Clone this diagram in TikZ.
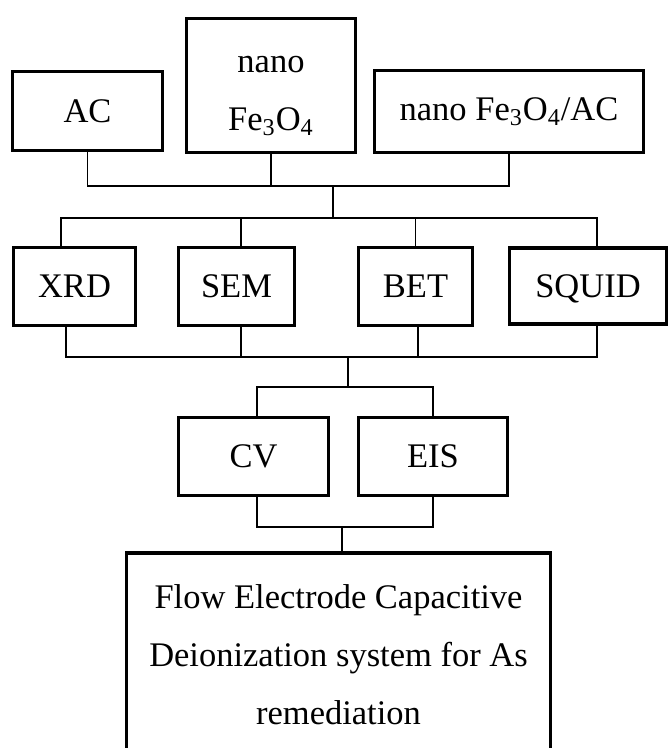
\documentclass[tikz,border=0pt]{standalone}
\usepackage{fontspec}
\setmainfont{Liberation Serif}

\begin{document}
\begin{tikzpicture}[x=0.5pt, y=-0.5pt,
    box/.style={draw, line width=1.65pt, inner sep=0pt, align=center,
      font=\fontsize{17.25}{29}\selectfont},
    link/.style={line width=0.7pt}]
  \clip (0,0) rectangle (670,748);
  % samples
  \node[box, minimum width=75pt, minimum height=39.5pt] (ac) at (87.5,111) {AC};
  \node[box, minimum width=84.5pt, minimum height=67pt] (nano) at (271,85.5)
    {\rule{0pt}{19pt}nano\\Fe\textsubscript{3}O\textsubscript{4}};
  \node[box, minimum width=134.5pt, minimum height=41pt] (nanoac) at (509,111.5)
    {nano Fe\textsubscript{3}O\textsubscript{4}/AC};
  % characterisation
  \node[box, minimum width=61pt, minimum height=39pt] (xrd) at (74.5,286.5) {XRD};
  \node[box, minimum width=58pt, minimum height=39pt] (sem) at (236.5,286.5) {SEM};
  \node[box, minimum width=57pt, minimum height=39pt] (bet) at (415.5,286.5) {BET};
  \node[box, minimum width=78.5pt, minimum height=38pt, text depth=0pt] (squid) at (588,286) {SQUID};
  % electrochemistry
  \node[box, minimum width=75pt, minimum height=39pt] (cv) at (253.5,456.5) {CV};
  \node[box, minimum width=74.5pt, minimum height=39pt] (eis) at (433,456.5) {EIS};
  \node[box, minimum width=212pt, minimum height=102pt] (fcdi) at (338.5,655)
    {Flow Electrode Capacitive\\Deionization system for As\\remediation};
  % bus points
  \coordinate (busa) at (333,186);
  \coordinate (busb) at (333,218);
  \coordinate (busc) at (348,357);
  \coordinate (busd) at (348,387);
  \coordinate (buse) at (342,527);
  \draw[link] (ac.south) |- (busa);
  \draw[link] (nano.south) -- (nano.south |- busa);
  \draw[link] (nanoac.south) |- (busa);
  \draw[link] (busa) -- (busb);
  \draw[link] ([xshift=-6.75pt]xrd.north) |- (busb);
  \draw[link] ([xshift=2.25pt]sem.north) -- ([xshift=2.25pt]sem.north |- busb);
  \draw[link] (bet.north) -- (bet.north |- busb);
  \draw[link] ([xshift=4.5pt]squid.north) |- (busb);
  \draw[link] ([xshift=-4.25pt]xrd.south) |- (busc);
  \draw[link] ([xshift=2.25pt]sem.south) -- ([xshift=2.25pt]sem.south |- busc);
  \draw[link] ([xshift=1.25pt]bet.south) -- ([xshift=1.25pt]bet.south |- busc);
  \draw[link] ([xshift=4.5pt]squid.south) |- (busc);
  \draw[link] (busc) -- (busd);
  \draw[link] ([xshift=1.75pt]cv.north) |- (busd);
  \draw[link] (eis.north) |- (busd);
  \draw[link] ([xshift=1.75pt]cv.south) |- (buse);
  \draw[link] (eis.south) |- (buse);
  \draw[link] (buse) -- (buse |- fcdi.north);
\end{tikzpicture}
\end{document}
